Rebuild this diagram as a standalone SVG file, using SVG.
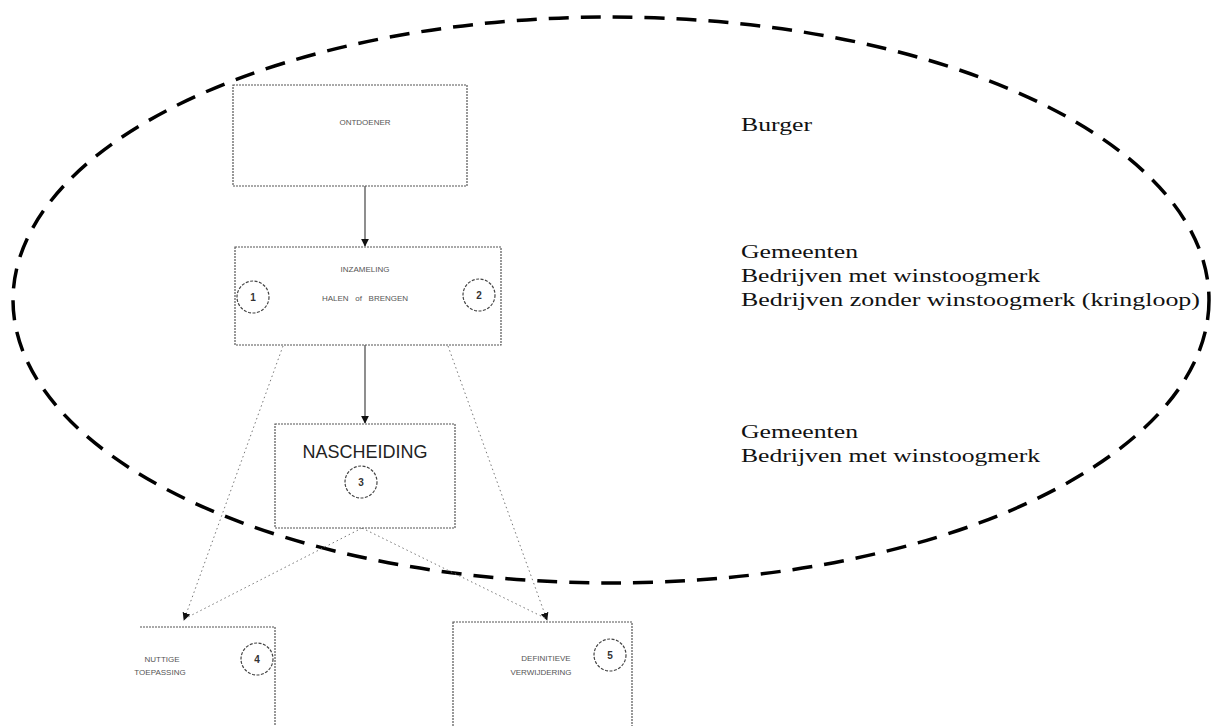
<svg xmlns="http://www.w3.org/2000/svg" width="1214" height="726" viewBox="0 0 1214 726">
  <style>
    .box { fill: #ffffff; stroke: #555555; stroke-width: 1.2; stroke-dasharray: 2 1; }
    .num { fill: none; stroke: #444444; stroke-width: 1.2; stroke-dasharray: 3 1.5; }
    .small { font-family: "Liberation Sans", Arial, sans-serif; font-size: 8px; fill: #555555; text-anchor: middle; }
    .numtxt { font-family: "Liberation Sans", Arial, sans-serif; font-size: 10px; font-weight: bold; fill: #333333; text-anchor: middle; }
    .big { font-family: "Liberation Sans", Arial, sans-serif; font-size: 18px; fill: #222222; text-anchor: middle; }
    .side { font-family: "Liberation Serif", "Times New Roman", serif; font-size: 18px; fill: #111111; }
    .flow { fill: none; stroke: #444444; stroke-width: 1.2; }
    .faint { fill: none; stroke: #777777; stroke-width: 1; stroke-dasharray: 1.5 3; }
  </style>
  <defs>
    <marker id="tip" viewBox="0 0 10 10" refX="9" refY="5" markerWidth="8" markerHeight="8" orient="auto" markerUnits="userSpaceOnUse">
      <path d="M0,0 L10,5 L0,10 z" fill="#111111"/>
    </marker>
  </defs>

  <rect width="1214" height="726" fill="#ffffff"/>

  <!-- boundary of the collection sphere -->
  <ellipse id="scope" cx="611" cy="300" rx="598" ry="283" fill="none" stroke="#000000" stroke-width="3.5" stroke-dasharray="20 12"/>

  <!-- connectors -->
  <g id="connectors">
    <line class="flow" x1="365" y1="186" x2="365" y2="246" marker-end="url(#tip)"/>
    <line class="flow" x1="365" y1="345" x2="365" y2="423" marker-end="url(#tip)"/>
    <line class="faint" x1="283" y1="346" x2="184" y2="620" marker-end="url(#tip)"/>
    <line class="faint" x1="448" y1="346" x2="547" y2="620" marker-end="url(#tip)"/>
    <line class="faint" x1="362" y1="528" x2="186" y2="618"/>
    <line class="faint" x1="362" y1="528" x2="545" y2="618"/>
  </g>

  <g id="ontdoener">
    <rect class="box" x="233" y="85" width="234" height="101"/>
    <text class="small" x="365" y="125">ONTDOENER</text>
  </g>

  <g id="inzameling">
    <rect class="box" x="235" y="247" width="266" height="98"/>
    <text class="small" x="365" y="272">INZAMELING</text>
    <text class="small" x="365" y="301" xml:space="preserve">HALEN   of   BRENGEN</text>
    <circle class="num" cx="253" cy="297" r="16"/>
    <text class="numtxt" x="253" y="301">1</text>
    <circle class="num" cx="479" cy="295" r="16"/>
    <text class="numtxt" x="479" y="299">2</text>
  </g>

  <g id="nascheiding">
    <rect class="box" x="275" y="424" width="180" height="104"/>
    <text class="big" x="365" y="458">NASCHEIDING</text>
    <circle class="num" cx="361" cy="482" r="16"/>
    <text class="numtxt" x="361" y="486">3</text>
  </g>

  <g id="nuttige-toepassing">
    <path class="box" d="M140,627 H275 V726" fill="none"/>
    <text class="small" x="162" y="662">NUTTIGE</text>
    <text class="small" x="160" y="675">TOEPASSING</text>
    <circle class="num" cx="257" cy="659" r="16"/>
    <text class="numtxt" x="257" y="663">4</text>
  </g>

  <g id="definitieve-verwijdering">
    <rect class="box" x="453" y="622" width="179" height="110"/>
    <text class="small" x="546" y="661">DEFINITIEVE</text>
    <text class="small" x="541" y="675">VERWIJDERING</text>
    <circle class="num" cx="610" cy="655" r="16"/>
    <text class="numtxt" x="610" y="659">5</text>
  </g>

  <!-- actors per stage -->
  <g id="actors">
    <text class="side" x="741" y="131" textLength="71" lengthAdjust="spacingAndGlyphs">Burger</text>
    <text class="side" x="741" y="258" textLength="117" lengthAdjust="spacingAndGlyphs">Gemeenten</text>
    <text class="side" x="741" y="282" textLength="299" lengthAdjust="spacingAndGlyphs">Bedrijven met winstoogmerk</text>
    <text class="side" x="741" y="306" textLength="459" lengthAdjust="spacingAndGlyphs">Bedrijven zonder winstoogmerk (kringloop)</text>
    <text class="side" x="741" y="438" textLength="117" lengthAdjust="spacingAndGlyphs">Gemeenten</text>
    <text class="side" x="741" y="462" textLength="299" lengthAdjust="spacingAndGlyphs">Bedrijven met winstoogmerk</text>
  </g>
</svg>
